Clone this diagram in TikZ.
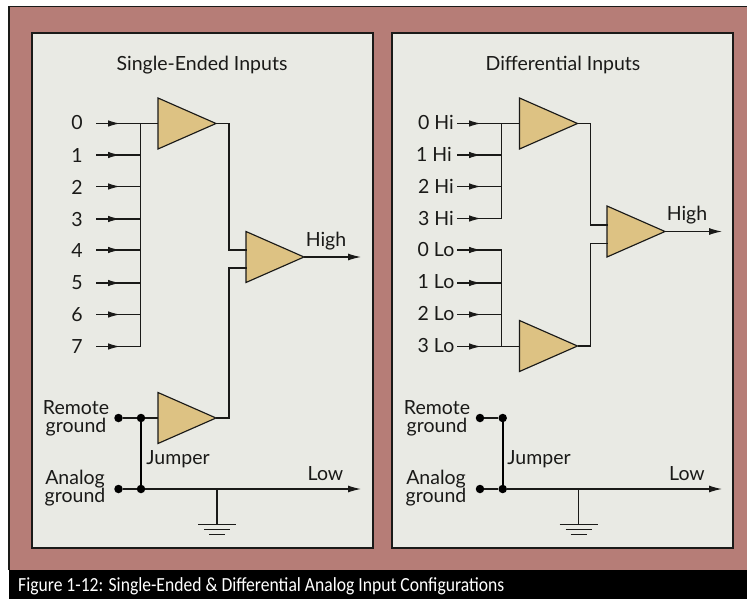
\documentclass[tikz,border=0pt]{standalone}
\usepackage{fontspec}
\setmainfont{Lato}
\newfontfamily\capfont[FakeStretch=0.88]{Carlito}
\usetikzlibrary{shapes.geometric,arrows.meta,decorations.markings}
\definecolor{framecol}{HTML}{B67D77}
\definecolor{panelcol}{HTML}{E9EAE4}
\definecolor{ampcol}{HTML}{DDC283}
\definecolor{inkcol}{HTML}{1A1A18}
\tikzset{
  wire/.style={draw=inkcol,line width=1.15pt},
  panel/.style={draw=inkcol,line width=1.2pt,fill=panelcol},
  amp/.style={isosceles triangle,isosceles triangle apex angle=47.5,isosceles triangle stretches,
    draw=inkcol,line width=1.15pt,fill=ampcol,minimum width=51pt,minimum height=58pt,inner sep=0pt,outer sep=0pt,anchor=apex},
  lab/.style={font=\fontsize{19.5}{18}\selectfont,text=inkcol,inner sep=0pt,align=center},
  dot/.style={circle,fill=black,inner sep=0pt,minimum size=8.5pt},
  inarrow/.style={wire,postaction={decorate},decoration={markings,mark=at position 24pt with {\arrow{Latex[length=12pt,width=6.5pt]}}}},
  outarrow/.style={wire,-{Latex[length=13pt,width=7pt]}},
  earth/.style={draw=inkcol,line width=1.15pt}
}
\begin{document}
\begin{tikzpicture}[x=1pt,y=-1pt]
  \useasboundingbox (0,0) rectangle (747,599);
  % frame and caption
  \fill[framecol] (9,6.5) rectangle (747,570);
  \draw[inkcol,line width=1.2pt] (9,570) -- (9,6.5) -- (747,6.5);
  \fill[black] (9,570) rectangle (747,599);
  \node[anchor=west,text=white,inner sep=0pt,font=\capfont\fontsize{20}{22}\selectfont] (caption) at (18,586)
    {Figure 1-12: Single-Ended \& Differential Analog Input Configurations};
  \path[panel] (32,33) rectangle (373,548);
  \path[panel] (392,33) rectangle (733,548);
  % Left-hand panel
  \node[lab] (titleL) at (202,65) {Single-Ended Inputs};
  \node[amp] (ampA) at (216,123.5) {};
  \node[amp] (ampB) at (304,257) {};
  \node[amp] (ampC) at (216,418) {};
  \node[lab] (l0) at (77,123) {0};
  \node[lab] (l1) at (77,155) {1};
  \node[lab] (l2) at (77,187) {2};
  \node[lab] (l3) at (77,220) {3};
  \node[lab] (l4) at (77,251) {4};
  \node[lab] (l5) at (77,283) {5};
  \node[lab] (l6) at (77,315) {6};
  \node[lab] (l7) at (77,347) {7};
  \coordinate (s0) at (96,123.5);
  \coordinate (s1) at (96,155);
  \coordinate (s2) at (96,186.5);
  \coordinate (s3) at (96,219);
  \coordinate (s4) at (96,250);
  \coordinate (s5) at (96,283);
  \coordinate (s6) at (96,314.5);
  \coordinate (s7) at (96,346.5);
  \coordinate (busL) at (140.5,123.5);
  \draw[inarrow] (s0) -- (ampA.west |- s0);
  \draw[inarrow] (s1) -- (busL |- s1);
  \draw[inarrow] (s2) -- (busL |- s2);
  \draw[inarrow] (s3) -- (busL |- s3);
  \draw[inarrow] (s4) -- (busL |- s4);
  \draw[inarrow] (s5) -- (busL |- s5);
  \draw[inarrow] (s6) -- (busL |- s6);
  \draw[inarrow] (s7) -- (busL |- s7);
  \draw[wire] (busL) -- (busL |- s7);
  \coordinate (hiL) at (246.5,250);
  \coordinate (loL) at (246.5,268);
  \draw[wire] (ampA.apex) -- ++(13,0) |- (hiL);
  \draw[wire] (ampC.apex) -- ++(13,0) |- (loL);
  \coordinate (outL) at (361,257);
  \draw[outarrow] (ampB.apex) -- (outL);
  \node[lab] (highL) at (326,241) {High};
  \node[lab] (remoteL) at (76,418) {Remote\\ground};
  \node[lab] (analogL) at (75,488) {Analog\\ground};
  \node[dot] (d1) at (118.5,418) {};
  \node[dot] (d2) at (141,418) {};
  \node[dot] (d3) at (118.5,489) {};
  \node[dot] (d4) at (141,489) {};
  \draw[wire] (d1) -- (d2) -- (ampC.west |- d2);
  \draw[black,line width=2.2pt] (d2) -- (d4);
  \node[lab] (jumperL) at (178,459) {Jumper};
  \coordinate (endL) at (361,489);
  \draw[wire] (d3) -- (d4);
  \draw[outarrow] (d4) -- (endL);
  \node[lab] (lowL) at (325.5,474) {Low};
  \coordinate (gndL) at (217,489);
  \coordinate (gbL) at (217,524.5);
  \draw[earth] (gndL) -- (gbL);
  \draw[earth] ([xshift=-19pt]gbL) -- ([xshift=19pt]gbL);
  \draw[earth] ([xshift=-13pt,yshift=-5pt]gbL) -- ([xshift=13pt,yshift=-5pt]gbL);
  \draw[earth] ([xshift=-8pt,yshift=-10pt]gbL) -- ([xshift=8pt,yshift=-10pt]gbL);
  % Right-hand panel
  \node[lab] (titleR) at (563,65) {Differential Inputs};
  \node[amp] (ampD) at (577.5,123.5) {};
  \node[amp] (ampE) at (665,231.5) {};
  \node[amp] (ampF) at (577.5,346) {};
  \node[lab] (h0) at (436,122) {0 Hi};
  \node[lab] (h1) at (434,154) {1 Hi};
  \node[lab] (h2) at (436,186) {2 Hi};
  \node[lab] (h3) at (436,218) {3 Hi};
  \node[lab] (r0) at (436,250) {0 Lo};
  \node[lab] (r1) at (436,282) {1 Lo};
  \node[lab] (r2) at (436,314) {2 Lo};
  \node[lab] (r3) at (436,346) {3 Lo};
  \coordinate (t0) at (457,123.5);
  \coordinate (t1) at (457,155);
  \coordinate (t2) at (457,186.5);
  \coordinate (t3) at (457,218.5);
  \coordinate (t4) at (457,250);
  \coordinate (t5) at (457,283);
  \coordinate (t6) at (457,314.5);
  \coordinate (t7) at (457,346.5);
  \coordinate (busR) at (501.7,123.5);
  \draw[inarrow] (t0) -- (ampD.west |- t0);
  \draw[inarrow] (t1) -- (busR |- t1);
  \draw[inarrow] (t2) -- (busR |- t2);
  \draw[inarrow] (t3) -- (busR |- t3);
  \draw[inarrow] (t4) -- (busR |- t4);
  \draw[inarrow] (t5) -- (busR |- t5);
  \draw[inarrow] (t6) -- (busR |- t6);
  \draw[inarrow] (t7) -- (ampF.west |- t7);
  \draw[wire] (busR) -- (busR |- t3);
  \draw[wire] (busR |- t4) -- (busR |- t7);
  \coordinate (hiR) at (608,225);
  \coordinate (loR) at (608,243.5);
  \draw[wire] (ampD.apex) -- ++(13,0) |- (hiR);
  \draw[wire] (ampF.apex) -- ++(13,0) |- (loR);
  \coordinate (outR) at (722,231.5);
  \draw[outarrow] (ampE.apex) -- (outR);
  \node[lab] (highR) at (687,215) {High};
  \node[lab] (remoteR) at (437,418) {Remote\\ground};
  \node[lab] (analogR) at (436,488) {Analog\\ground};
  \node[dot] (d5) at (480,418) {};
  \node[dot] (d6) at (502.7,418) {};
  \node[dot] (d7) at (480,489) {};
  \node[dot] (d8) at (502.7,489) {};
  \draw[wire] (d5) -- (d6);
  \draw[black,line width=2.2pt] (d6) -- (d8);
  \node[lab] (jumperR) at (539,459) {Jumper};
  \coordinate (endR) at (722,489);
  \draw[wire] (d7) -- (d8);
  \draw[outarrow] (d8) -- (endR);
  \node[lab] (lowR) at (687,474) {Low};
  \coordinate (gndR) at (578.5,489);
  \coordinate (gbR) at (578.5,524.5);
  \draw[earth] (gndR) -- (gbR);
  \draw[earth] ([xshift=-19pt]gbR) -- ([xshift=19pt]gbR);
  \draw[earth] ([xshift=-13pt,yshift=-5pt]gbR) -- ([xshift=13pt,yshift=-5pt]gbR);
  \draw[earth] ([xshift=-8pt,yshift=-10pt]gbR) -- ([xshift=8pt,yshift=-10pt]gbR);
\end{tikzpicture}
\end{document}
